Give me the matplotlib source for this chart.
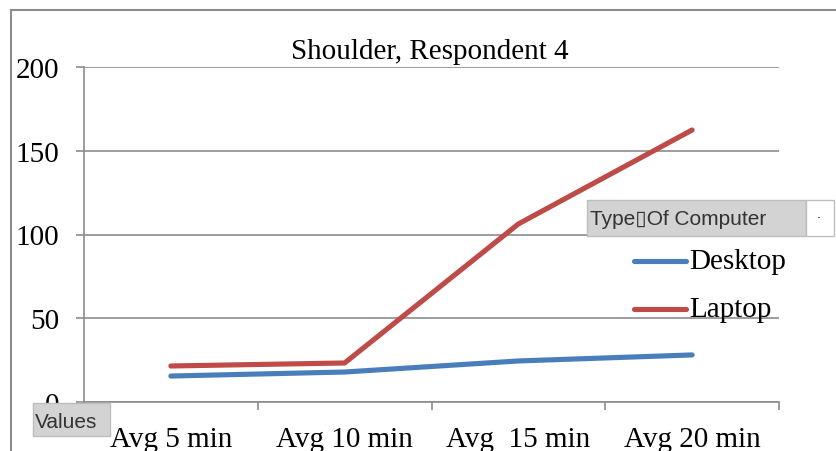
import matplotlib.pyplot as plt
from matplotlib.lines import Line2D
from matplotlib.patches import Rectangle

# data
categories = ["Avg 5 min", "Avg 10 min", "Avg  15 min", "Avg 20 min"]
desktop = [15.5, 17.9, 24.5, 28.1]
laptop = [21.5, 23.3, 106.3, 162.4]
yticks = [0, 50, 100, 150, 200]

BLUE = "#4A7EBB"
RED = "#BE4B48"
GRID = "#8C8C8C"
SERIF = "Liberation Serif"
SANS = ["Liberation Sans", "DejaVu Sans"]
LW = 3.7

fig = plt.figure(figsize=(8.37, 4.52), dpi=100)
ax = fig.add_axes([84 / 837, 1 - 403 / 452, (779 - 84) / 837, (403 - 68) / 452])

x = list(range(len(categories)))
ax.plot(x, desktop, color=BLUE, lw=LW, solid_capstyle="round", zorder=3)
ax.plot(x, laptop, color=RED, lw=LW, solid_capstyle="round", zorder=3)

ax.set_xlim(-0.5, len(categories) - 0.5)
ax.set_ylim(0, 200)

# y axis
ax.set_yticks(yticks)
ax.set_yticklabels([str(v) for v in yticks], fontfamily=SERIF, fontsize=21)
ax.tick_params(axis="y", direction="out", length=6, width=1.2, color=GRID, pad=12)
ax.grid(axis="y", color=GRID, lw=1.2)

# x axis: boundary ticks, labels at category centres
ax.set_xticks([i - 0.5 for i in range(len(categories) + 1)])
ax.set_xticklabels([])
ax.tick_params(axis="x", which="major", direction="out", length=6, width=1.2, color=GRID)
ax.set_xticks(x, minor=True)
ax.set_xticklabels(categories, minor=True, fontfamily=SERIF, fontsize=21)
ax.tick_params(axis="x", which="minor", length=0, pad=17)

for side in ("top", "right"):
    ax.spines[side].set_visible(False)
for side in ("left", "bottom"):
    ax.spines[side].set_color(GRID)
    ax.spines[side].set_linewidth(1.2)

# title
fig.text(430 / 837, 1 - 52 / 452, "Shoulder, Respondent 4", fontfamily=SERIF,
         fontsize=21, ha="center", va="center")

# outer chart border
fig.add_artist(Line2D([11 / 837, 11 / 837], [0, 1 - 11 / 452], color=GRID, lw=1.5))
fig.add_artist(Line2D([11 / 837, 1], [1 - 11 / 452, 1 - 11 / 452], color=GRID, lw=1.5))

# pivot field buttons
fig.add_artist(Rectangle((587 / 837, 1 - 237 / 452), (806 - 587) / 837, 36 / 452,
                         facecolor="#D3D3D3", edgecolor="#BEBEBE", lw=1))
fig.add_artist(Rectangle((806 / 837, 1 - 237 / 452), (834 - 806) / 837, 36 / 452,
                         facecolor="white", edgecolor="#BEBEBE", lw=1))
fig.text(590 / 837, 1 - 220 / 452, "Type\u25AFOf Computer", fontfamily=SANS,
         fontsize=15, ha="left", va="center", color="#333333")
fig.text(819 / 837, 1 - 219 / 452, "\u00b7", fontsize=9, ha="center", va="center")

fig.add_artist(Rectangle((33 / 837, 1 - 437 / 452), (110 - 33) / 837, 33 / 452,
                         facecolor="#D3D3D3", edgecolor="#BEBEBE", lw=1, zorder=5))
fig.text(35 / 837, 1 - 423 / 452, "Values", fontfamily=SANS, fontsize=15,
         ha="left", va="center", color="#333333", zorder=6)

# legend
for y, color, name in [(262, BLUE, "Desktop"), (310, RED, "Laptop")]:
    fig.add_artist(Line2D([634 / 837, 686 / 837], [1 - y / 452, 1 - y / 452],
                          color=color, lw=LW, solid_capstyle="round"))
    fig.text(689 / 837, 1 - y / 452, name, fontfamily=SERIF, fontsize=21,
             ha="left", va="center")

fig.savefig("out.png", dpi=100)
